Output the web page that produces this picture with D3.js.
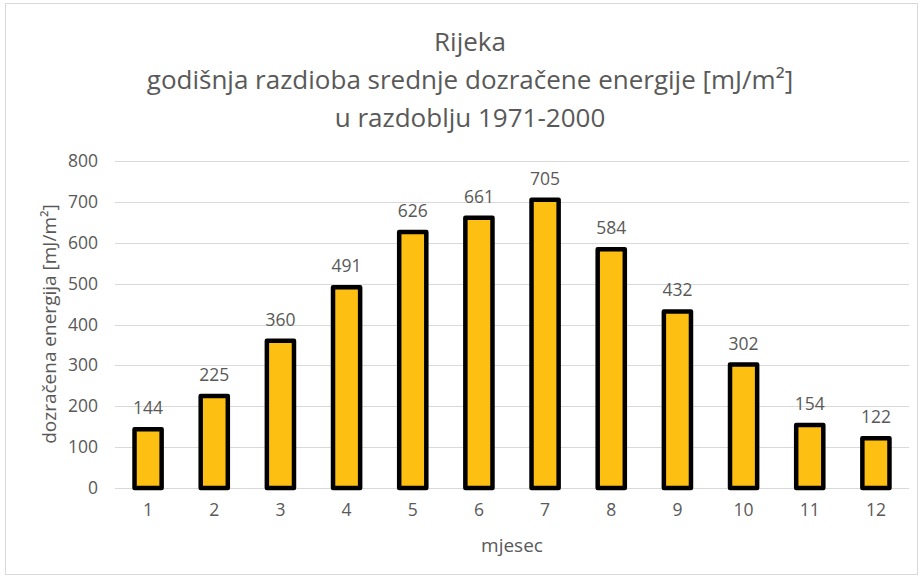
<!DOCTYPE html>
<html>
<head>
<meta charset="utf-8">
<script src="https://cdn.jsdelivr.net/npm/d3@7"></script>
<style>
  body { margin: 0; background: #fff; }
  text { font-family: "Open Sans", "Noto Sans", sans-serif; fill: #595959; }
</style>
</head>
<body>
<div id="canvas"></div>
<script>
// data
var months = ["1", "2", "3", "4", "5", "6", "7", "8", "9", "10", "11", "12"];
var energy = [144, 225, 360, 491, 626, 661, 705, 584, 432, 302, 154, 122];
var yTicks = [0, 100, 200, 300, 400, 500, 600, 700, 800];
var titleLines = ["Rijeka", "godišnja razdioba srednje dozračene energije [mJ/m²]", "u razdoblju 1971-2000"];

var w = 923, h = 578;
var margin = {top: 161, right: 14, bottom: 90, left: 115};

var svg = d3.select("#canvas")
    .append("svg")
    .attr("width", w)
    .attr("height", h);

// chart border
svg.append("rect")
    .attr("x", 5.5).attr("y", 3.5)
    .attr("width", 912).attr("height", 571)
    .attr("fill", "none")
    .attr("stroke", "#d9d9d9");

var x_scale = d3.scaleBand()
    .domain(months)
    .range([margin.left, w - margin.right])
    .paddingInner(0.59)
    .paddingOuter(0.295);

var y_scale = d3.scaleLinear()
    .domain([0, 800])
    .range([h - margin.bottom, margin.top]);

// gridlines
svg.append("g")
    .selectAll("line")
    .data(yTicks)
    .join("line")
    .attr("x1", margin.left)
    .attr("x2", w - margin.right)
    .attr("y1", d => Math.round(y_scale(d)) + 0.5)
    .attr("y2", d => Math.round(y_scale(d)) + 0.5)
    .attr("stroke", "#d9d9d9")
    .attr("stroke-width", 1);

// y axis labels
var yAxis = svg.append("g")
    .attr("transform", `translate(${margin.left},0)`)
    .call(d3.axisLeft(y_scale).tickValues(yTicks).tickSize(0).tickPadding(17));
yAxis.select(".domain").remove();
yAxis.selectAll("text").style("font-size", "17.5px").attr("fill", "#595959");

// x axis labels
var xAxis = svg.append("g")
    .attr("transform", `translate(0,${h - margin.bottom})`)
    .call(d3.axisBottom(x_scale).tickSize(0).tickPadding(16));
xAxis.select(".domain").remove();
xAxis.selectAll("text").style("font-size", "17.5px").attr("fill", "#595959");

// bars
svg.append("g")
    .selectAll("rect")
    .data(energy)
    .join("rect")
    .attr("x", (d, i) => x_scale(months[i]))
    .attr("y", d => y_scale(d))
    .attr("width", x_scale.bandwidth())
    .attr("height", d => y_scale(0) - y_scale(d))
    .attr("fill", "#FCBF12")
    .attr("stroke", "#000")
    .attr("stroke-width", 4.5)
    .attr("stroke-linejoin", "round");

// value labels
svg.append("g")
    .selectAll("text")
    .data(energy)
    .join("text")
    .attr("x", (d, i) => x_scale(months[i]) + x_scale.bandwidth() / 2)
    .attr("y", d => y_scale(d) - 15)
    .attr("text-anchor", "middle")
    .style("font-size", "17.5px")
    .text(d => d);

// title
svg.append("g")
    .selectAll("text")
    .data(titleLines)
    .join("text")
    .attr("x", 470)
    .attr("y", (d, i) => 51 + i * 38)
    .attr("text-anchor", "middle")
    .style("font-size", "26px")
    .text(d => d);

// axis titles
svg.append("text")
    .attr("transform", "translate(56,324) rotate(-90)")
    .attr("text-anchor", "middle")
    .style("font-size", "19px")
    .text("dozračena energija [mJ/m²]");

svg.append("text")
    .attr("x", 512)
    .attr("y", 552)
    .attr("text-anchor", "middle")
    .style("font-size", "19px")
    .text("mjesec");
</script>
</body>
</html>
